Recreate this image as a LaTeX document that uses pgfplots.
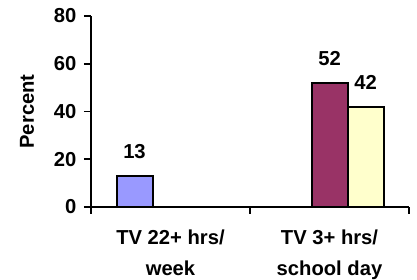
\documentclass[border=0pt]{standalone}
\usepackage{fontspec}
\setmainfont{Liberation Sans}
\usepackage{pgfplots}
\pgfplotsset{compat=1.18}
\definecolor{c1}{RGB}{153,153,255}
\definecolor{c2}{RGB}{153,51,102}
\definecolor{c3}{RGB}{255,255,204}
\newcommand{\lblfont}{\fontsize{20.2}{31}\selectfont\bfseries}
\begin{document}
\begin{tikzpicture}
\useasboundingbox (0pt,0pt) rectangle (417pt,280pt);
\begin{axis}[
 at={(91pt,73pt)}, anchor=south west,
 scale only axis, width=318pt, height=191pt,
 ybar=0pt, bar width=36pt,
 xmin=-0.5, xmax=1.5, ymin=0, ymax=80,
 axis lines=left, axis line style={-, line width=1.6pt},
 ytick={0,20,40,60,80},
 xtick={-0.5,0.5,1.5}, xticklabels={},
 extra x ticks={0,1},
 extra x tick labels={{TV 22+ hrs/\\week},{TV 3+ hrs/\\school day}},
 extra x tick style={major tick length=0pt, x tick label style={yshift=-19pt}},
 tick align=outside, major tick length=7pt,
 tick style={line width=1.6pt, black},
 /pgf/number format/assume math mode=true,
 tick label style={font=\lblfont},
 x tick label style={align=center},
 y tick label style={xshift=-4pt},
 ylabel={Percent},
 every axis y label/.style={at={(axis description cs:-0.201,0.5)}, rotate=90, anchor=center, font=\lblfont},
 nodes near coords,
 every node near coord/.append style={font=\lblfont, inner sep=0pt, anchor=south, yshift=16pt, black},
]
\addplot[fill=c1, draw=black, line width=2pt] coordinates {(0,13)};
\addplot[fill=c2, draw=black, line width=2pt] coordinates {(1,52)};
\addplot[fill=c3, draw=black, line width=2pt] coordinates {(1,42)};
\end{axis}
\end{tikzpicture}
\end{document}
